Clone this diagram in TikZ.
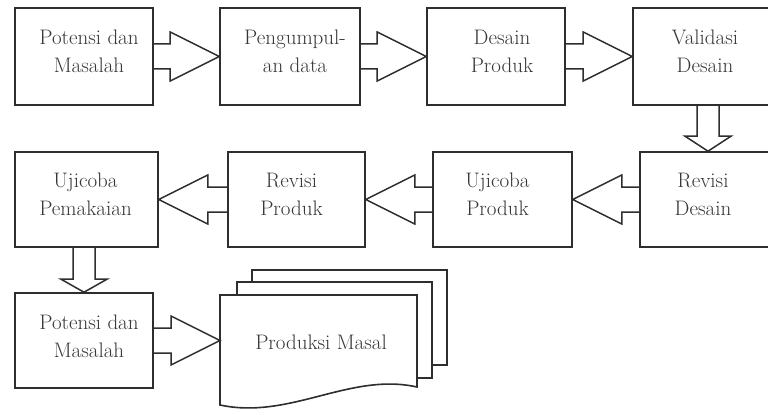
\documentclass[tikz,border=0pt]{standalone}
\usepackage{fontspec}
\setmainfont{Latin Modern Roman}
\usetikzlibrary{calc}
\definecolor{edge}{HTML}{2E2E2E}
\definecolor{ink}{HTML}{363636}
\tikzset{
  stepbox/.style={draw=edge, line width=1.6pt, fill=white, rectangle, inner sep=0pt},
  txt/.style={align=center, text=ink, font=\fontsize{21}{28}\selectfont, inner sep=0pt},
  blk/.style={draw=edge, line width=1.5pt, line join=miter},
  sheet/.style={draw=edge, line width=1.6pt, fill=white}
}
% block arrows: shaft half width 12.5pt, head half width 24.5pt
\newcommand\rarrow[3]{\draw[blk] let \p1=(#1), \p2=(#2) in
  (\x1,\y1+12.5pt) -- (\x2-#3pt,\y1+12.5pt) -- (\x2-#3pt,\y1+24.5pt) -- (\x2,\y1)
  -- (\x2-#3pt,\y1-24.5pt) -- (\x2-#3pt,\y1-12.5pt) -- (\x1,\y1-12.5pt);}
\newcommand\larrow[3]{\draw[blk] let \p1=(#1), \p2=(#2) in
  (\x1,\y1+12.5pt) -- (\x2+#3pt,\y1+12.5pt) -- (\x2+#3pt,\y1+24.5pt) -- (\x2,\y1)
  -- (\x2+#3pt,\y1-24.5pt) -- (\x2+#3pt,\y1-12.5pt) -- (\x1,\y1-12.5pt);}
\newcommand\darrow[3]{\draw[blk] let \p1=(#1), \p2=(#2) in
  (\x2-11pt,\y1) -- (\x2-11pt,\y2+#3pt) -- (\x2-23pt,\y2+#3pt) -- (\x2,\y2)
  -- (\x2+23pt,\y2+#3pt) -- (\x2+11pt,\y2+#3pt) -- (\x2+11pt,\y1);}
\begin{document}
\begin{tikzpicture}[x=1pt,y=-1pt]
\useasboundingbox (0,0) rectangle (768,412);
\clip (0,0) rectangle (768,412);
\fill[white] (0,0) rectangle (768,412);

% first row
\node[stepbox, minimum width=138pt, minimum height=97pt] (b1) at (84,56.5) {};
\node[stepbox, minimum width=140pt, minimum height=97pt] (b2) at (290,56.5) {};
\node[stepbox, minimum width=138pt, minimum height=97pt] (b3) at (496,56.5) {};
\node[stepbox, minimum width=144pt, minimum height=97pt] (b4) at (705,56.5) {};
\node[txt] (tb1) at ($(b1)+(5,-5)$) {Potensi dan\\Masalah};
\node[txt] (tb2) at ($(b2)+(5,-5)$) {Pengumpul-\\an data};
\node[txt] (tb3) at ($(b3)+(6,-5)$) {Desain\\Produk};
\node[txt] (tb4) at ($(b4)+(0,-5)$) {Validasi\\Desain};

% second row
\node[stepbox, minimum width=143pt, minimum height=95pt] (c1) at (86.5,199.5) {};
\node[stepbox, minimum width=137pt, minimum height=95pt] (c2) at (296.5,199.5) {};
\node[stepbox, minimum width=139pt, minimum height=95pt] (c3) at (502.5,199.5) {};
\node[stepbox, minimum width=136pt, minimum height=95pt] (c4) at (708,199.5) {};
\node[txt] (tc1) at ($(c1)+(-1,-5)$) {Ujicoba\\Pemakaian};
\node[txt] (tc2) at ($(c2)+(-5,-5)$) {Revisi\\Produk};
\node[txt] (tc3) at ($(c3)+(-5,-5)$) {Ujicoba\\Produk};
\node[txt] (tc4) at ($(c4)+(-5,-5)$) {Revisi\\Desain};

% third row
\node[stepbox, minimum width=138pt, minimum height=95pt] (d1) at (84,340.5) {};
\node[txt] (td1) at ($(d1)+(5,-4)$) {Potensi dan\\Masalah};

% stacked document sheets
\draw[sheet] (252,365) -- (252,270) -- (447,270) -- (447,365) -- cycle;
\draw[sheet] (237,378) -- (237,282) -- (432,282) -- (432,378) -- cycle;
\draw[sheet] (220,405) -- (220,295) -- (417,295) -- (417,387)
  .. controls (350,372) and (290,420) .. (220,405) -- cycle;
\node[txt] (d2) at (321,342) {Produksi Masal};
\coordinate (d2w) at (220,340.5);

% connectors
\rarrow{b1.east}{b2.west}{49}
\rarrow{b2.east}{b3.west}{49}
\rarrow{b3.east}{b4.west}{49}
\darrow{b4.south}{c4.north}{15}
\larrow{c4.west}{c3.east}{49}
\larrow{c3.west}{c2.east}{49}
\larrow{c2.west}{c1.east}{49}
\darrow{c1.south}{d1.north}{13}
\rarrow{d1.east}{d2w}{49}
\end{tikzpicture}
\end{document}
